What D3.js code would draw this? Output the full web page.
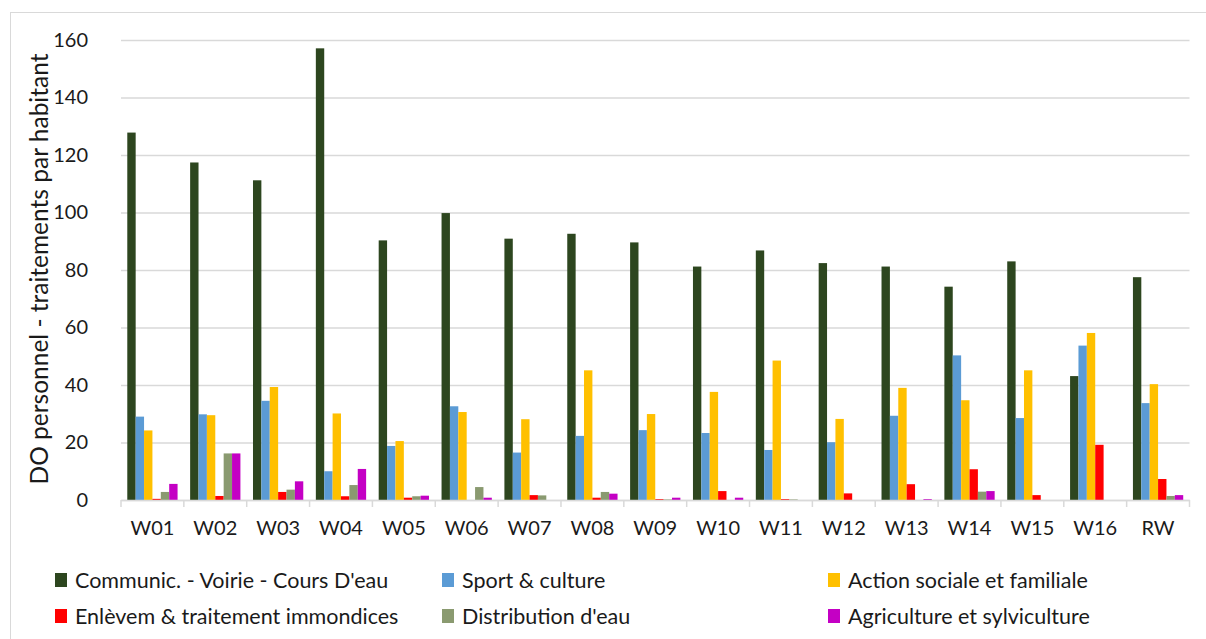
<!DOCTYPE html>
<html>
<head>
<meta charset="utf-8">
<script src="https://cdn.jsdelivr.net/npm/d3@7"></script>
<style>
  html, body { margin: 0; padding: 0; background: #fff; }
  svg { display: block; }
  text { font-family: Lato, "Open Sans", sans-serif; fill: #1a1a1a; }
</style>
</head>
<body>
<svg id="chart"></svg>
<script>
// communes + total
var categories = ["W01","W02","W03","W04","W05","W06","W07","W08","W09","W10","W11","W12","W13","W14","W15","W16","RW"];

var seriesNames = ["Communic. - Voirie - Cours D'eau", "Sport & culture", "Action sociale et familiale",
                   "Enlèvem & traitement immondices", "Distribution d'eau", "Agriculture et sylviculture"];

var communic     = [127.8, 117.4, 111.2, 157.1, 90.3, 99.8, 90.9, 92.6, 89.6, 81.2, 86.8, 82.4, 81.2, 74.2, 83.0, 43.1, 77.5];
var sport        = [29.0, 29.8, 34.5, 10.0, 18.8, 32.6, 16.5, 22.3, 24.3, 23.3, 17.4, 20.1, 29.3, 50.3, 28.5, 53.7, 33.7];
var action       = [24.2, 29.5, 39.3, 30.1, 20.5, 30.6, 28.1, 45.1, 29.9, 37.6, 48.5, 28.2, 39.0, 34.7, 45.1, 58.1, 40.3];
var enlevem      = [0.4, 1.4, 2.8, 1.3, 0.8, 0.0, 1.7, 0.8, 0.3, 3.1, 0.3, 2.3, 5.5, 10.7, 1.7, 19.2, 7.3];
var distribution = [2.8, 16.2, 3.6, 5.2, 1.3, 4.5, 1.6, 2.8, 0.2, 0.0, 0.2, 0.0, 0.0, 2.9, 0.0, 0.0, 1.4];
var agriculture  = [5.6, 16.2, 6.5, 10.8, 1.5, 0.8, 0.0, 2.2, 0.8, 0.8, 0.0, 0.0, 0.3, 3.1, 0.0, 0.0, 1.7];

var yTicks = [0, 20, 40, 60, 80, 100, 120, 140, 160];

var colors = ["#2d461f", "#5b9bd5", "#ffc000", "#ff0000", "#8a9a70", "#c400c4"];
var allSeries = [communic, sport, action, enlevem, distribution, agriculture];

var W = 1206, H = 639;
var svg = d3.select("#chart").attr("width", W).attr("height", H);

// outer frame (only left/top visible)
svg.append("rect")
  .attr("x", 10.5).attr("y", 12.5)
  .attr("width", W + 20).attr("height", H + 20)
  .attr("fill", "none").attr("stroke", "#d9d9d9").attr("stroke-width", 1);

var plotL = 121, plotR = 1189.5, plotT = 40, plotB = 500;

var x0 = d3.scaleBand().domain(categories).range([plotL, plotR]).padding(0);
var x1 = d3.scaleBand().domain(d3.range(seriesNames.length))
  .range([0, x0.bandwidth()]).paddingInner(0).paddingOuter(0.75);
var y = d3.scaleLinear().domain([0, 160]).range([plotB, plotT]);

// gridlines + y labels
var yAxis = svg.append("g")
  .attr("transform", "translate(" + plotL + ",0)")
  .call(d3.axisLeft(y).tickValues(yTicks).tickSize(-(plotR - plotL)).tickPadding(33));
yAxis.select(".domain").remove();
yAxis.selectAll(".tick line").attr("stroke", "#d9d9d9").attr("stroke-width", 1.5);
yAxis.selectAll(".tick text").attr("font-size", 20).style("font-family", null);

// bars
var groups = svg.append("g").selectAll("g")
  .data(categories)
  .join("g")
  .attr("transform", function(d) { return "translate(" + x0(d) + ",0)"; });

groups.selectAll("rect")
  .data(function(d, i) { return allSeries.map(function(s, k) { return { k: k, v: s[i] }; }); })
  .join("rect")
  .attr("x", function(d) { return x1(d.k); })
  .attr("width", x1.bandwidth())
  .attr("y", function(d) { return y(d.v); })
  .attr("height", function(d) { return y(0) - y(d.v); })
  .attr("fill", function(d) { return colors[d.k]; });

// x axis
var xAxis = svg.append("g")
  .attr("transform", "translate(0," + plotB + ")")
  .call(d3.axisBottom(x0).tickSize(0).tickPadding(21));
xAxis.select(".domain").attr("stroke", "#d9d9d9").attr("stroke-width", 1.5);
xAxis.selectAll(".tick text").attr("font-size", 20).style("font-family", null);

// category separators
var bounds = categories.map(function(c) { return x0(c); }).concat([plotR]);
svg.append("g").selectAll("line")
  .data(bounds)
  .join("line")
  .attr("x1", function(d) { return d; }).attr("x2", function(d) { return d; })
  .attr("y1", plotB).attr("y2", plotB + 7)
  .attr("stroke", "#d9d9d9").attr("stroke-width", 1.5);

// y title
svg.append("text")
  .attr("transform", "translate(48,269) rotate(-90)")
  .attr("text-anchor", "middle")
  .attr("font-size", 24.5)
  .text("DO personnel - traitements par habitant");

// legend
var legX = [55, 442, 828], legY = [580, 616];
var leg = svg.append("g").selectAll("g")
  .data(seriesNames)
  .join("g")
  .attr("transform", function(d, i) { return "translate(" + legX[i % 3] + "," + legY[Math.floor(i / 3)] + ")"; });
leg.append("rect")
  .attr("x", 0).attr("y", -7).attr("width", 12).attr("height", 14)
  .attr("fill", function(d, i) { return colors[i]; });
leg.append("text")
  .attr("x", 20).attr("dy", "0.35em")
  .attr("font-size", 21.5)
  .text(function(d) { return d; });
</script>
</body>
</html>
